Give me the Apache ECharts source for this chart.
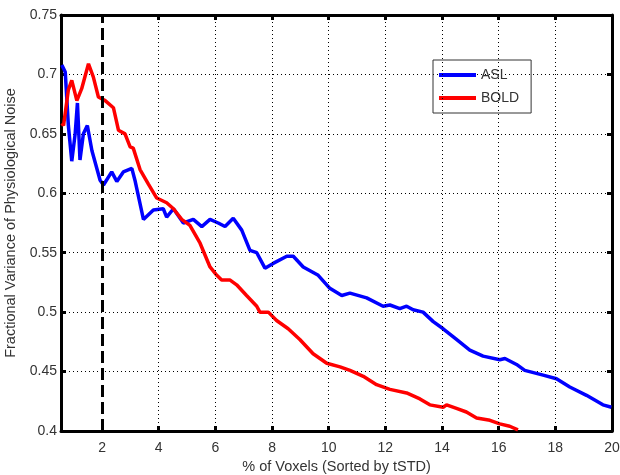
<!DOCTYPE html>
<html>
<head>
<meta charset="utf-8">
<script src="https://cdn.jsdelivr.net/npm/echarts@6/dist/echarts.min.js"></script>
<style>
  html, body { margin: 0; padding: 0; background: #fff; }
  #chart { width: 620px; height: 475px; }
</style>
</head>
<body>
<div id="chart"></div>
<script>
// ASL curve, [% voxels, fractional variance]
const aslData = [
  [0.58, 0.708], [0.70, 0.702], [0.81, 0.657], [0.93, 0.627], [1.05, 0.650],
  [1.13, 0.676], [1.22, 0.628], [1.34, 0.650], [1.48, 0.657], [1.64, 0.636],
  [1.93, 0.611], [2.05, 0.607], [2.34, 0.618], [2.52, 0.610], [2.75, 0.618],
  [3.05, 0.621], [3.16, 0.611], [3.46, 0.578], [3.81, 0.586], [4.16, 0.587],
  [4.28, 0.580], [4.52, 0.587], [4.87, 0.575], [5.22, 0.578], [5.52, 0.572],
  [5.81, 0.578], [6.10, 0.575], [6.34, 0.572], [6.63, 0.579], [6.93, 0.569],
  [7.22, 0.552], [7.46, 0.550], [7.75, 0.537], [8.04, 0.541], [8.52, 0.547],
  [8.75, 0.547], [9.10, 0.538], [9.63, 0.531], [10.04, 0.520], [10.46, 0.514],
  [10.75, 0.516], [11.34, 0.512], [11.92, 0.505], [12.16, 0.506], [12.51, 0.503],
  [12.75, 0.505], [12.98, 0.502], [13.33, 0.500], [13.69, 0.492], [14.04, 0.486],
  [14.51, 0.477], [14.98, 0.468], [15.45, 0.463], [16.04, 0.460], [16.22, 0.461],
  [16.63, 0.456], [16.92, 0.451], [17.57, 0.447], [18.04, 0.444], [18.51, 0.437],
  [19.10, 0.430], [19.68, 0.422], [19.98, 0.420]
];
// BOLD curve
const boldData = [
  [0.58, 0.659], [0.64, 0.657], [0.81, 0.687], [0.93, 0.695], [1.11, 0.678],
  [1.28, 0.688], [1.52, 0.709], [1.69, 0.698], [1.87, 0.681], [2.11, 0.678],
  [2.40, 0.672], [2.58, 0.653], [2.81, 0.650], [2.99, 0.639], [3.10, 0.638],
  [3.34, 0.620], [3.63, 0.608], [3.93, 0.596], [4.28, 0.592], [4.52, 0.587],
  [4.81, 0.578], [5.10, 0.573], [5.46, 0.558], [5.81, 0.538], [6.05, 0.531],
  [6.22, 0.527], [6.52, 0.527], [6.75, 0.523], [7.10, 0.514], [7.46, 0.505],
  [7.57, 0.500], [7.87, 0.500], [8.16, 0.493], [8.57, 0.486], [8.98, 0.477],
  [9.45, 0.465], [9.93, 0.457], [10.40, 0.454], [10.75, 0.451], [11.22, 0.446],
  [11.69, 0.439], [12.16, 0.435], [12.75, 0.432], [13.22, 0.427], [13.57, 0.422],
  [14.04, 0.420], [14.16, 0.422], [14.51, 0.419], [14.86, 0.416], [15.22, 0.411],
  [15.69, 0.409], [16.04, 0.406], [16.39, 0.404], [16.68, 0.401]
];
const xTicks = [2, 4, 6, 8, 10, 12, 14, 16, 18, 20];
const cutoff = 2;

const chart = echarts.init(document.getElementById('chart'));
const fontFamily = '"Liberation Sans", Arial, sans-serif';
const frame = { show: true, onZero: false, lineStyle: { color: '#000', width: 3 } };
const innerTick = { show: true, inside: true, length: 5, lineStyle: { color: '#000', width: 3 } };
const dots = { show: true, lineStyle: { color: '#000', width: 1, type: [1, 3] } };

chart.setOption({
  animation: false,
  textStyle: { fontFamily: fontFamily },
  grid: { left: 61, top: 15, right: 8, bottom: 44, containLabel: false, outerBoundsMode: 'none' },
  legend: {
    orient: 'vertical',
    left: 433, top: 60,
    borderColor: '#333', borderWidth: 1,
    padding: [8, 12, 8, 6],
    itemWidth: 37, itemHeight: 4, itemGap: 9,
    icon: 'rect',
    textStyle: { fontSize: 14, color: '#333', fontFamily: fontFamily },
    data: ['ASL', 'BOLD']
  },
  xAxis: [{
    type: 'value', min: 0.55, max: 20,
    name: '% of Voxels (Sorted by tSTD)',
    nameLocation: 'middle', nameGap: 27,
    nameTextStyle: { fontSize: 14.5, color: '#333' },
    axisLine: frame,
    axisTick: Object.assign({ customValues: xTicks }, innerTick),
    axisLabel: { customValues: xTicks, fontSize: 14, color: '#333', margin: 10 },
    splitLine: { show: false }
  }, {
    type: 'value', min: 0.55, max: 20, position: 'top',
    axisLine: frame,
    axisTick: Object.assign({ customValues: xTicks }, innerTick),
    axisLabel: { show: false, customValues: xTicks },
    splitLine: { show: false }
  }],
  yAxis: [{
    type: 'value', min: 0.4, max: 0.75, interval: 0.05,
    name: 'Fractional Variance of Physiological Noise',
    nameLocation: 'middle', nameGap: 35,
    nameTextStyle: { fontSize: 14.5, color: '#333' },
    axisLine: frame,
    axisTick: innerTick,
    axisLabel: { fontSize: 14, color: '#333', margin: 4, formatter: v => String(parseFloat(v.toFixed(2))) },
    splitLine: dots
  }, {
    type: 'value', min: 0.4, max: 0.75, interval: 0.05, position: 'right',
    axisLine: frame,
    axisTick: innerTick,
    axisLabel: { show: false },
    splitLine: { show: false }
  }],
  series: [{
    name: 'ASL', type: 'line', data: aslData,
    showSymbol: false, color: '#0000ff',
    lineStyle: { width: 3.5, color: '#0000ff' },
    markLine: {
      silent: true, symbol: 'none', label: { show: false },
      lineStyle: { color: '#000', width: 3, type: [12, 5] },
      data: [{ xAxis: cutoff }]
    }
  }, {
    name: 'BOLD', type: 'line', data: boldData,
    showSymbol: false, color: '#ff0000',
    lineStyle: { width: 3.5, color: '#ff0000' },
    markLine: {
      silent: true, symbol: 'none', label: { show: false },
      lineStyle: { color: '#000', width: 1, type: [1, 3] },
      data: xTicks.slice(1, 9).map(v => ({ xAxis: v }))
    }
  }]
});
</script>
</body>
</html>
